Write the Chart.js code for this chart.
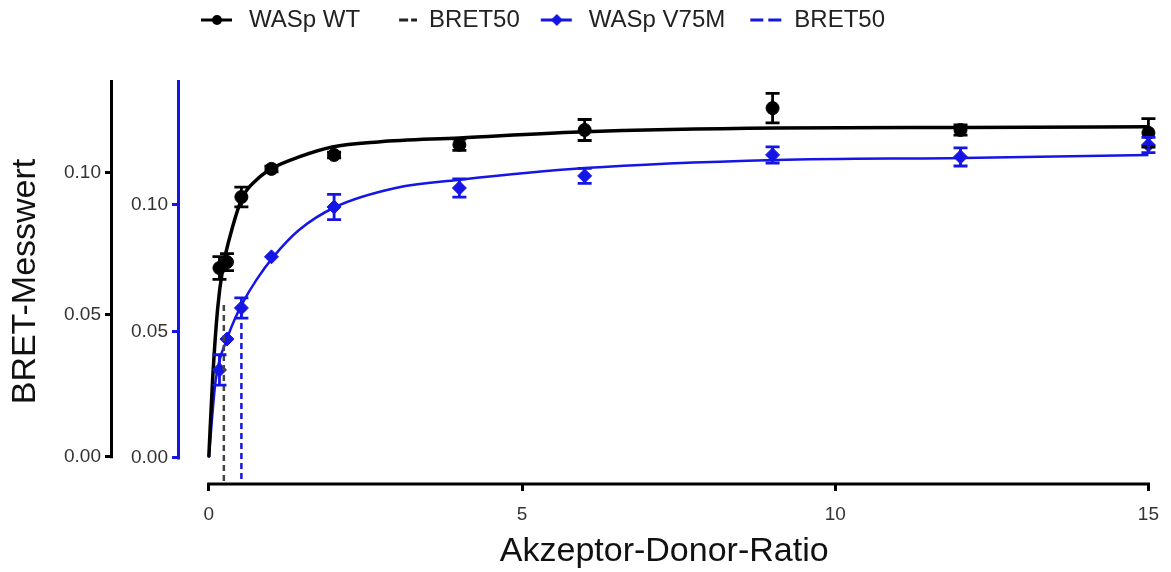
<!DOCTYPE html>
<html>
<head>
<meta charset="utf-8">
<script src="https://cdn.jsdelivr.net/npm/chart.js@4.4.1/dist/chart.umd.min.js"></script>
<style>
  html, body { margin: 0; padding: 0; background: #fff; }
  #wrap { width: 1171px; height: 572px; }
</style>
</head>
<body>
<div id="wrap"><canvas id="bret"></canvas></div>
<script>
// Messpunkte (Mittelwert +/- Fehler)
const ratio = [0.17, 0.29, 0.52, 1, 2, 4, 6, 9, 12, 15];
const wtMean = [0.0665, 0.0686, 0.0915, 0.1014, 0.1063, 0.1099, 0.1151, 0.1228, 0.1151, 0.1141];
const wtErr = [0.004, 0.003, 0.0035, 0.001, 0.001, 0.002, 0.0037, 0.0052, 0.0018, 0.005];
const v75mMean = [0.0348, 0.0470, 0.0593, 0.0795, 0.0992, 0.1067, 0.1115, 0.1198, 0.1190, 0.1237];
const v75mErr = [0.006, 0, 0.004, 0, 0.005, 0.0036, 0.003, 0.0032, 0.0036, 0.003];

// Fitkurven
const fitRatioWT = [0, 0.06, 0.14, 0.22, 0.38, 0.54, 0.76, 1.02, 1.44, 1.97, 2.7, 4, 5.9, 9.06, 12, 15];
const fitWT = [0, 0.027, 0.052, 0.066, 0.081, 0.0915, 0.0975, 0.1017, 0.1056, 0.1091, 0.1109, 0.1123, 0.1144, 0.1158, 0.1160, 0.1162];
const fitRatioV75M = [0, 0.11, 0.29, 0.41, 0.54, 0.76, 1.03, 1.44, 2.02, 3.0, 3.98, 6.0, 9.06, 12.03, 15];
const fitV75M = [0, 0.0308, 0.047, 0.0546, 0.0613, 0.0704, 0.0795, 0.0901, 0.0992, 0.1068, 0.1099, 0.1146, 0.1178, 0.1186, 0.1198];

// BRET50
const bret50WT = 0.24, bret50WTTop = 0.0535;
const bret50V75M = 0.52, bret50V75MTop = 0.0573;

// Achsen
const xTicks = [0, 5, 10, 15];
const yTicks = [0, 0.05, 0.1];
const xMin = -0.46, xMax = 15;
const yWTMin = -0.0092, yWTMax = 0.1327;
const yV75MMin = -0.0099, yV75MMax = 0.1494;

const legendNames = ['WASp WT', 'BRET50', 'WASp V75M', 'BRET50'];

const BLUE = '#1515e6';
const FONT = "'Liberation Sans', Arial, sans-serif";
Chart.defaults.font.family = FONT;

function pts(xs, ys) { return xs.map((x, i) => ({x: x, y: ys[i]})); }

// kleine Legendensymbole: Linie mit Marker oder gestrichelt
function legendIcon(kind, color) {
  const c = document.createElement('canvas');
  c.width = 49; c.height = 20;
  const g = c.getContext('2d');
  g.strokeStyle = color; g.fillStyle = color; g.lineWidth = 3;
  if (kind === 'circle' || kind === 'diamond') {
    g.beginPath(); g.moveTo(13, 10); g.lineTo(44, 10); g.stroke();
    g.beginPath();
    if (kind === 'circle') g.arc(29, 10, 5, 0, Math.PI * 2);
    else { g.moveTo(29, 4); g.lineTo(35, 10); g.lineTo(29, 16); g.lineTo(23, 10); g.closePath(); }
    g.fill();
  } else {
    const segs = kind === 'dashS' ? [[31, 40], [43, 49]] : [[17, 30], [35, 48]];
    segs.forEach(s => { g.beginPath(); g.moveTo(s[0], 10); g.lineTo(s[1], 10); g.stroke(); });
  }
  return c;
}
const legendIcons = [legendIcon('circle', '#000'), legendIcon('dashS', '#222'), legendIcon('diamond', BLUE), legendIcon('dashL', BLUE)];

// Fehlerbalken
const errorBars = {
  id: 'errorBars',
  afterDatasetsDraw(chart) {
    const ctx = chart.ctx;
    chart.data.datasets.forEach(ds => {
      if (!ds.errors) return;
      const xs = chart.scales[ds.xAxisID], ys = chart.scales[ds.yAxisID];
      ctx.save();
      ctx.strokeStyle = ds.borderColor;
      ctx.lineWidth = 2.8;
      ds.data.forEach((p, j) => {
        const e = ds.errors[j];
        if (!e) return;
        const x = xs.getPixelForValue(p.x);
        const y1 = ys.getPixelForValue(p.y + e), y2 = ys.getPixelForValue(p.y - e);
        ctx.beginPath();
        ctx.moveTo(x, y1); ctx.lineTo(x, y2);
        ctx.moveTo(x - 7, y1); ctx.lineTo(x + 7, y1);
        ctx.moveTo(x - 7, y2); ctx.lineTo(x + 7, y2);
        ctx.stroke();
      });
      ctx.restore();
    });
  }
};

// Achsenlinien im GraphPad-Stil (abgesetzt)
const axisLines = {
  id: 'axisLines',
  beforeDatasetsDraw(chart) {
    const {ctx, chartArea, scales} = chart;
    ctx.save();
    ctx.lineWidth = 3;
    const x = scales.x;
    ctx.strokeStyle = '#000';
    ctx.beginPath();
    ctx.moveTo(x.getPixelForValue(xTicks[0]) - 1.5, chartArea.bottom + 1);
    ctx.lineTo(x.getPixelForValue(xTicks[xTicks.length - 1]) + 1.5, chartArea.bottom + 1);
    ctx.stroke();
    [['y', '#000'], ['y2', BLUE]].forEach(([id, col]) => {
      const s = scales[id];
      ctx.strokeStyle = col;
      ctx.beginPath();
      ctx.moveTo(s.right - 1.5, s.getPixelForValue(0) + 1.5);
      ctx.lineTo(s.right - 1.5, chartArea.top);
      ctx.stroke();
    });
    ctx.restore();
  }
};

const tickFont = {size: 19, family: FONT};

const datasets = [
  { label: 'WASp WT', data: pts(ratio, wtMean), errors: wtErr, xAxisID: 'x', yAxisID: 'y',
    showLine: false, pointStyle: 'circle', pointRadius: 6.5, backgroundColor: '#000', borderColor: '#000', clip: false },
  { label: 'BRET50', data: [{x: bret50WT, y: bret50WTTop}, {x: bret50WT, y: yWTMin}], xAxisID: 'x', yAxisID: 'y',
    showLine: true, pointRadius: 0, borderColor: '#444', borderWidth: 2.5, borderDash: [6, 4], clip: false },
  { label: 'WASp V75M', data: pts(ratio, v75mMean), errors: v75mErr, xAxisID: 'x', yAxisID: 'y2',
    showLine: false, pointStyle: 'rectRot', pointRadius: 7, backgroundColor: BLUE, borderColor: BLUE, clip: false },
  { label: 'BRET50', data: [{x: bret50V75M, y: bret50V75MTop}, {x: bret50V75M, y: yV75MMin}], xAxisID: 'x', yAxisID: 'y2',
    showLine: true, pointRadius: 0, borderColor: BLUE, borderWidth: 2.5, borderDash: [6, 4], clip: false },
  { label: 'fit WT', data: pts(fitRatioWT, fitWT), xAxisID: 'x', yAxisID: 'y',
    showLine: true, pointRadius: 0, borderColor: '#000', borderWidth: 3.5, cubicInterpolationMode: 'monotone', clip: false },
  { label: 'fit V75M', data: pts(fitRatioV75M, fitV75M), xAxisID: 'x', yAxisID: 'y2',
    showLine: true, pointRadius: 0, borderColor: BLUE, borderWidth: 2.5, cubicInterpolationMode: 'monotone', clip: false }
];

new Chart(document.getElementById('bret'), {
  type: 'scatter',
  data: { datasets: datasets },
  plugins: [axisLines, errorBars],
  options: {
    responsive: true,
    maintainAspectRatio: false,
    animation: false,
    layout: { padding: { top: 0, right: 17, bottom: 0, left: 0 } },
    plugins: {
      tooltip: { enabled: false },
      legend: {
        position: 'top',
        align: 'start',
        fullSize: false,
        labels: {
          usePointStyle: true,
          pointStyleWidth: 49,
          padding: 8,
          color: '#222',
          font: {size: 24, family: FONT},
          generateLabels: () => legendNames.map((t, i) => ({
            text: t, pointStyle: legendIcons[i], fillStyle: 'transparent', strokeStyle: 'transparent',
            lineWidth: 0, hidden: false, datasetIndex: i, fontColor: '#222'
          }))
        }
      }
    },
    scales: {
      x: {
        type: 'linear', position: 'bottom', min: xMin, max: xMax,
        afterBuildTicks: s => { s.ticks = xTicks.map(v => ({value: v})); },
        afterFit: s => { s.height = 89; },
        ticks: { font: tickFont, color: '#333', padding: 12, callback: v => String(v) },
        grid: { drawOnChartArea: false, drawTicks: true, tickLength: 8, color: '#000', lineWidth: 3 },
        border: { display: false },
        title: { display: true, text: 'Akzeptor-Donor-Ratio', color: '#111', font: {size: 34, family: FONT}, padding: {top: 0, bottom: 0} }
      },
      xTop: {
        type: 'linear', position: 'top', display: true,
        ticks: { display: false }, grid: { display: false }, border: { display: false },
        afterFit: s => { s.height = 38; }
      },
      y: {
        type: 'linear', position: 'left', weight: 1, min: yWTMin, max: yWTMax,
        afterBuildTicks: s => { s.ticks = yTicks.map(v => ({value: v})); },
        afterFit: s => { s.width = 113; },
        ticks: { font: tickFont, color: '#333', padding: 4, callback: v => v.toFixed(2) },
        grid: { drawOnChartArea: false, drawTicks: true, tickLength: 8, color: '#000', lineWidth: 3 },
        border: { display: false },
        title: { display: true, text: 'BRET-Messwert', color: '#111', font: {size: 34, family: FONT}, padding: {top: 5, bottom: 0} }
      },
      y2: {
        type: 'linear', position: 'left', weight: 0, min: yV75MMin, max: yV75MMax,
        afterBuildTicks: s => { s.ticks = yTicks.map(v => ({value: v})); },
        afterFit: s => { s.width = 67; },
        ticks: { font: tickFont, color: '#333', padding: 4, callback: v => v.toFixed(2) },
        grid: { drawOnChartArea: false, drawTicks: true, tickLength: 8, color: BLUE, lineWidth: 3 },
        border: { display: false }
      }
    }
  }
});
</script>
</body>
</html>
